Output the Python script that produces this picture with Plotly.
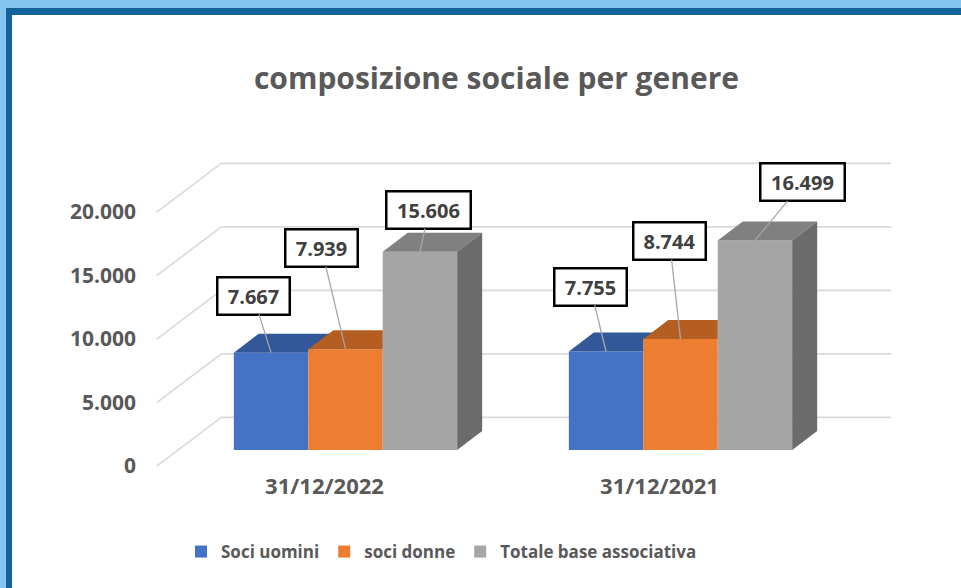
import plotly.graph_objects as go

# ---------------- data ----------------
categories = ["31/12/2022", "31/12/2021"]
series_names = ["Soci uomini", "soci donne", "Totale base associativa"]
soci_uomini = [7667, 7755]
soci_donne = [7939, 8744]
totale_base = [15606, 16499]
y_ticks = [0, 5000, 10000, 15000, 20000]

series_values = [soci_uomini, soci_donne, totale_base]

# ---------------- style ----------------
front_colors = ["#4472C4", "#ED7D31", "#A5A5A5"]
top_colors = ["#32589A", "#B45E22", "#808080"]
side_colors = ["#2A4A82", "#9A501D", "#6B6B6B"]
grid_color = "#D9D9D9"
text_grey = "#595959"
label_dark = "#404040"
FONT = "Open Sans"

# label box offsets (pixels) from bar top, per series per category
label_ax = [[-18, -16], [-24, -11], [9, 48]]
label_ay = [[-57, -65], [-101, -98], [-42, -58]]

# ---------------- geometry (pixel layout) ----------------
W, H = 961, 588
L, R, T, B = 150, 900, 100, 470          # plot-area pixel box
PX_G0, PX_PER_U = 345.5, 335.0           # x pixel of first group, pixels per category
PY_0, PY_PER_V = 450.0, 0.0127           # y pixel of value 0, pixels per unit value

x_range = [(L - PX_G0) / PX_PER_U, (R - PX_G0) / PX_PER_U]
y_range = [(PY_0 - B) / PY_PER_V, (PY_0 - T) / PY_PER_V]

def du(px):
    return px / PX_PER_U

def dv(py):
    return -py / PY_PER_V

# perspective depth (pixels)
WALL_D = (64.7, -48.7)
FRONT_F, BACK_F = -0.33, 0.67
BAR_D = (25.0, -19.0)

front_dx, front_dv = du(WALL_D[0] * FRONT_F), dv(WALL_D[1] * FRONT_F)
back_dx, back_dv = du(WALL_D[0] * BACK_F), dv(WALL_D[1] * BACK_F)
bar_dx, bar_dv = du(BAR_D[0]), dv(BAR_D[1])

n_series = len(series_values)
group_w = 2.0 / 3.0
bar_w = group_w / n_series
x_left, x_right = -0.5, len(categories) - 0.5

def px2paper_x(px):
    return (px - L) / (R - L)

def py2paper_y(py):
    return (B - py) / (B - T)

fig = go.Figure()

# ---------------- 3D bars ----------------
for k, (name, vals) in enumerate(zip(series_names, series_values)):
    offset = -group_w / 2 + k * bar_w
    fig.add_trace(go.Bar(
        x=list(range(len(categories))), y=vals, name=name,
        width=bar_w, offset=offset,
        marker=dict(color=front_colors[k], line=dict(width=0)),
        hovertemplate="%{y}<extra>" + name + "</extra>",
    ))

for i in range(len(categories)):
    for k in range(n_series):
        v = series_values[k][i]
        x0 = i - group_w / 2 + k * bar_w
        x1 = x0 + bar_w
        # top face (clipped by a taller neighbour's front face)
        if k + 1 < n_series and series_values[k + 1][i] > v:
            vn = series_values[k + 1][i]
            if vn >= v + bar_dv:
                xs = [x0, x1, x1, x0 + bar_dx, x0]
                ys = [v, v, v + bar_dv, v + bar_dv, v]
            else:
                xe = x1 + bar_dx * (vn - v) / bar_dv
                xs = [x0, x1, x1, xe, x1 + bar_dx, x0 + bar_dx, x0]
                ys = [v, v, vn, vn, v + bar_dv, v + bar_dv, v]
        else:
            xs = [x0, x1, x1 + bar_dx, x0 + bar_dx, x0]
            ys = [v, v, v + bar_dv, v + bar_dv, v]
        fig.add_trace(go.Scatter(x=xs, y=ys, fill="toself", mode="lines",
                                 line=dict(width=0, color=top_colors[k]),
                                 fillcolor=top_colors[k], showlegend=False,
                                 hoverinfo="skip"))
        # right side face for the right-most bar
        if k == n_series - 1:
            xs = [x1, x1, x1 + bar_dx, x1 + bar_dx, x1]
            ys = [0, v, v + bar_dv, bar_dv, 0]
            fig.add_trace(go.Scatter(x=xs, y=ys, fill="toself", mode="lines",
                                     line=dict(width=0, color=side_colors[k]),
                                     fillcolor=side_colors[k], showlegend=False,
                                     hoverinfo="skip"))

# ---------------- walls / gridlines ----------------
shapes = []
for t in y_ticks:
    shapes.append(dict(type="line", xref="x", yref="y", layer="below",
                       x0=x_left + back_dx, x1=x_right + back_dx,
                       y0=t + back_dv, y1=t + back_dv,
                       line=dict(color=grid_color, width=1.6)))
    shapes.append(dict(type="line", xref="x", yref="y", layer="below",
                       x0=x_left + front_dx, x1=x_left + back_dx,
                       y0=t + front_dv, y1=t + back_dv,
                       line=dict(color=grid_color, width=1.6)))

# ---------------- frame ----------------
light_blue, dark_blue = "#85C5F0", "#13629A"
frame = [
    (0, W, 0, 8, light_blue),
    (0, 6, 0, H, light_blue),
    (6, W, 8, 15, dark_blue),
    (6, 12, 8, H, dark_blue),
]
for x0, x1, y0, y1, c in frame:
    shapes.append(dict(type="rect", xref="paper", yref="paper", layer="below",
                       x0=px2paper_x(x0), x1=px2paper_x(x1),
                       y0=py2paper_y(y0), y1=py2paper_y(y1),
                       fillcolor=c, line=dict(width=0)))

# ---------------- data labels ----------------
annotations = []
for k in range(n_series):
    for i in range(len(categories)):
        v = series_values[k][i]
        txt = f"{v:,}".replace(",", ".")
        xc = i - group_w / 2 + (k + 0.5) * bar_w
        annotations.append(dict(
            x=xc, y=v, xref="x", yref="y", text=txt,
            showarrow=True, arrowhead=0, arrowwidth=1.3, arrowcolor="#A6A6A6",
            ax=label_ax[k][i], ay=label_ay[k][i], standoff=0,
            font=dict(family=FONT, size=20, color=label_dark, weight="bold"),
            bgcolor="white", bordercolor="black", borderwidth=2.5, borderpad=3,
            width=64 if len(txt) <= 5 else 76, height=29,
        ))

fig.update_layout(
    width=W, height=H,
    margin=dict(l=L, r=W - R, t=T, b=H - B, autoexpand=False),
    paper_bgcolor="white", plot_bgcolor="rgba(0,0,0,0)",
    separators=",.",
    barmode="group", bargap=1 / 3, bargroupgap=0,
    title=dict(text="composizione sociale per genere",
               x=px2paper_x(496.5), xref="paper", xanchor="center",
               y=1 - 78 / H, yref="container", yanchor="middle",
               font=dict(family=FONT, size=30, color=text_grey, weight="bold")),
    xaxis=dict(range=x_range, showgrid=False, zeroline=False, showline=False,
               tickvals=list(range(len(categories))), ticktext=categories,
               ticks="", ticklabelshift=-21, ticklabelstandoff=1,
               tickfont=dict(family=FONT, size=22, color=text_grey, weight="bold"),
               fixedrange=True),
    yaxis=dict(range=y_range, showgrid=False, zeroline=False, showline=False,
               tickvals=y_ticks, tickformat=",d", ticks="",
               ticklabelshift=16, ticklabelstandoff=13,
               tickfont=dict(family=FONT, size=21, color=text_grey, weight="bold"),
               fixedrange=True),
    legend=dict(orientation="h", x=px2paper_x(441.5), xanchor="center",
                y=py2paper_y(552), yanchor="middle",
                font=dict(family=FONT, size=17, color=text_grey, weight="bold"),
                itemclick=False, itemdoubleclick=False),
    shapes=shapes,
    annotations=annotations,
    showlegend=True,
)

fig.write_html(
    "out.html",
    config={"displayModeBar": False},
    post_script="document.body.style.margin='0';document.body.style.overflow='hidden';",
)
